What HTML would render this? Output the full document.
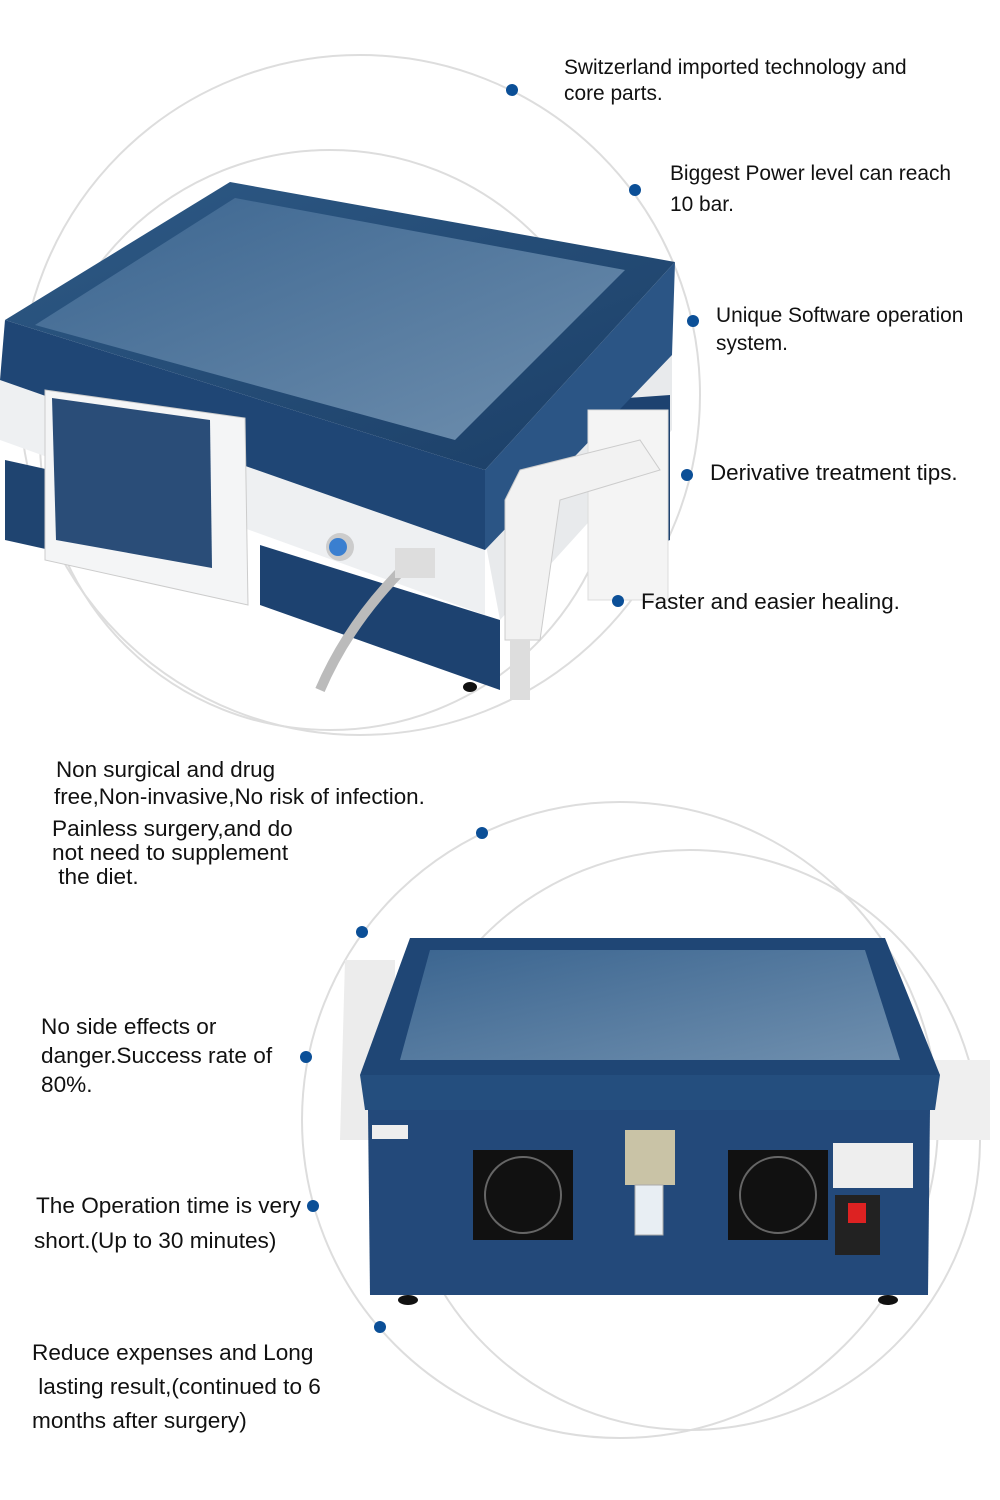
<!DOCTYPE html>
<html><head><meta charset="utf-8"><style>
html,body{margin:0;padding:0;background:#fff}
.w{position:relative;width:1000px;height:1500px;overflow:hidden;font-family:"Liberation Sans",sans-serif;color:#111}
.t{position:absolute;font-size:20px;line-height:26px;white-space:nowrap}
svg{position:absolute;left:0;top:0}
</style></head><body><div class="w">
<svg width="1000" height="1500" viewBox="0 0 1000 1500">
<defs>
<linearGradient id="bl" x1="0" y1="0" x2="1" y2="1"><stop offset="0" stop-color="#2e5a86"/><stop offset="1" stop-color="#1b3e66"/></linearGradient>
<linearGradient id="scr" x1="0" y1="0" x2="1" y2="1"><stop offset="0" stop-color="#3b6590"/><stop offset="1" stop-color="#6f8fae"/></linearGradient>
</defs>
<g fill="none" stroke="#ddd" stroke-width="2">
<circle cx="360" cy="395" r="340"/>
<circle cx="330" cy="440" r="290"/>
<circle cx="620" cy="1120" r="318"/>
<circle cx="690" cy="1140" r="290"/>
</g>
<polygon points="0,380 485,550 485,615 0,440" fill="#eef0f2"/>
<polygon points="5,460 50,470 50,550 5,540" fill="#1f4470"/>
<polygon points="260,545 500,620 500,690 260,605" fill="#1d4270"/>
<polygon points="485,540 672,350 672,430 500,620" fill="#e8eaec"/>
<polygon points="600,400 670,395 670,540 600,570" fill="#1d4270"/>
<polygon points="5,320 485,470 485,550 0,380" fill="#1f4675"/>
<polygon points="485,470 675,262 672,355 485,550" fill="#2b5585"/>
<polygon points="5,320 230,182 675,262 485,470" fill="url(#bl)"/>
<polygon points="35,325 235,198 625,270 455,440" fill="url(#scr)"/>
<polygon points="45,390 245,418 248,605 45,560" fill="#f4f5f6" stroke="#ccc"/>
<polygon points="52,398 210,420 212,568 56,540" fill="#2a4d78"/>
<circle cx="340" cy="547" r="14" fill="#ccc"/><circle cx="338" cy="547" r="9" fill="#3a7fd0"/>
<path d="M410,562 Q350,620 320,690" stroke="#bbb" stroke-width="10" fill="none"/>
<rect x="395" y="548" width="40" height="30" fill="#ddd"/>
<rect x="588" y="410" width="80" height="190" fill="#f4f4f4" stroke="#ddd"/>
<path d="M520,470 L640,440 L660,470 L560,500 L540,640 L505,640 L505,500 Z" fill="#f2f2f2" stroke="#ccc"/>
<rect x="510" y="640" width="20" height="60" fill="#ddd"/>
<polygon points="345,960 395,960 395,1140 340,1140" fill="#ececec"/>
<polygon points="930,1060 990,1060 990,1140 930,1140" fill="#efefef"/>
<polygon points="410,938 885,938 940,1075 360,1075" fill="#1f4675"/>
<polygon points="430,950 865,950 900,1060 400,1060" fill="url(#scr)"/>
<polygon points="360,1075 940,1075 935,1110 365,1110" fill="#244e7e"/>
<polygon points="368,1110 930,1110 928,1295 370,1295" fill="#23497a"/>
<g fill="#111"><rect x="473" y="1150" width="100" height="90"/><rect x="728" y="1150" width="100" height="90"/></g>
<g fill="none" stroke="#666" stroke-width="2"><circle cx="523" cy="1195" r="38"/><circle cx="778" cy="1195" r="38"/></g>
<rect x="625" y="1130" width="50" height="55" fill="#c9c3a6"/>
<rect x="635" y="1185" width="28" height="50" fill="#e8eef3" stroke="#aaa"/>
<rect x="833" y="1143" width="80" height="45" fill="#eee"/>
<rect x="835" y="1195" width="45" height="60" fill="#222"/><rect x="848" y="1203" width="18" height="20" fill="#d22"/>
<rect x="372" y="1125" width="36" height="14" fill="#eee"/>
<g fill="#111"><ellipse cx="408" cy="1300" rx="10" ry="5"/><ellipse cx="888" cy="1300" rx="10" ry="5"/><ellipse cx="470" cy="687" rx="7" ry="5"/></g>
<g fill="#0b4f97">
<circle cx="512" cy="90" r="6"/><circle cx="635" cy="190" r="6"/><circle cx="693" cy="321" r="6"/>
<circle cx="687" cy="475" r="6"/><circle cx="618" cy="601" r="6"/>
<circle cx="482" cy="833" r="6"/><circle cx="362" cy="932" r="6"/><circle cx="306" cy="1057" r="6"/>
<circle cx="313" cy="1206" r="6"/><circle cx="380" cy="1327" r="6"/>
</g>
</svg>
<div class="t" style="left:564px;top:55px;font-size:20.9px">Switzerland imported technology and<br>core parts.</div>
<div class="t" style="left:670px;top:158px;line-height:31px;font-size:20.9px">Biggest Power level can reach<br>10 bar.</div>
<div class="t" style="left:716px;top:302px;line-height:28px;font-size:20.9px">Unique Software operation<br>system.</div>
<div class="t" style="left:710px;top:460px;font-size:22.4px">Derivative treatment tips.</div>
<div class="t" style="left:641px;top:589px;font-size:22.4px">Faster and easier healing.</div>
<div class="t" style="left:56px;top:756px;line-height:27px;font-size:22.4px">Non surgical and drug<br><span style="margin-left:-2px">free,Non-invasive,No risk of infection.</span></div>
<div class="t" style="left:52px;top:817px;line-height:24px;font-size:22.6px">Painless surgery,and do<br>not need to supplement<br>&nbsp;the diet.</div>
<div class="t" style="left:41px;top:1012px;line-height:29px;font-size:22.6px">No side effects or<br>danger.Success rate of<br>80%.</div>
<div class="t" style="left:36px;top:1188px;line-height:35px;font-size:22.6px">The Operation time is very<br><span style="margin-left:-2px">short.(Up to 30 minutes)</span></div>
<div class="t" style="left:32px;top:1336px;line-height:34px;font-size:22.6px">Reduce expenses and Long<br>&nbsp;lasting result,(continued to 6<br>months after surgery)</div>
</div></body></html>
